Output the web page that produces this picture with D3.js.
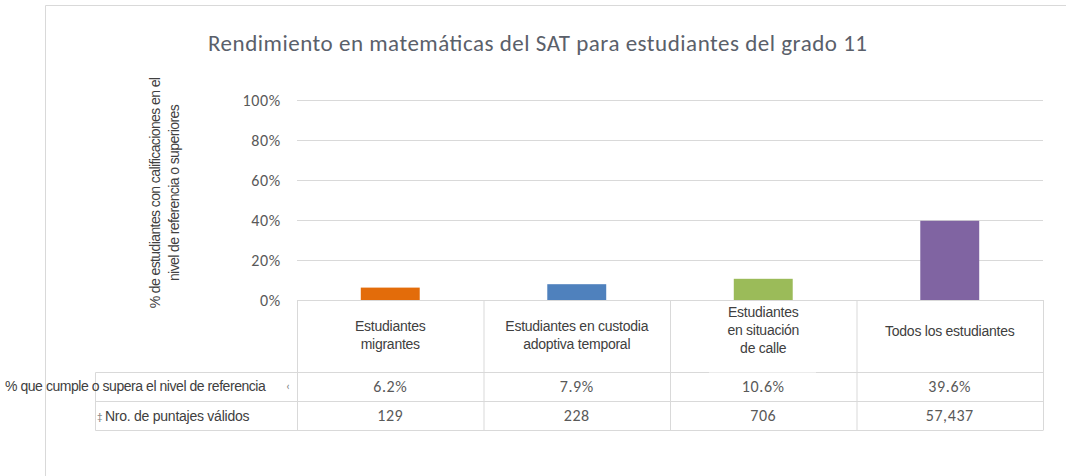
<!DOCTYPE html>
<html>
<head>
<meta charset="UTF-8">
<title>SAT matemáticas grado 11</title>
<style>
body { margin: 0; background: #fff; }
text { font-family: Carlito, Lato, sans-serif; }
.narrow { font-family: "Liberation Sans", Arial, sans-serif; letter-spacing: -0.25px; }
</style>
</head>
<body>
<script src="https://cdn.jsdelivr.net/npm/d3@7"></script>
<script>
// chart data
var categories = ["Estudiantes migrantes", "Estudiantes en custodia adoptiva temporal",
                  "Estudiantes en situación de calle", "Todos los estudiantes"];
var labelLines = [["Estudiantes", "migrantes"],
                  ["Estudiantes en custodia", "adoptiva temporal"],
                  ["Estudiantes", "en situación", "de calle"],
                  ["Todos los estudiantes"]];
var values = [0.062, 0.079, 0.106, 0.396];
var counts = ["129", "228", "706", "57,437"];
var colors = ["#e36c0a", "#4f81bd", "#9bbb59", "#8064a2"];
var yTicks = [0, 0.2, 0.4, 0.6, 0.8, 1];
var rowLabels = ["% que cumple o supera el nivel de referencia", "Nro. de puntajes válidos"];
var title = "Rendimiento en matemáticas del SAT para  estudiantes del grado 11";
var yTitle = ["% de estudiantes con calificaciones en el", "nivel de referencia o superiores"];

var width = 1066, height = 476;
var grid = "#d9d9d9";
var left = 297, right = 1043, top0 = 100, base = 300;

var svg = d3.select("body").append("svg")
  .attr("width", width)
  .attr("height", height);

// outer chart frame
svg.append("path")
  .attr("d", "M45.5," + height + "V5.5H" + width)
  .attr("fill", "none")
  .attr("stroke", grid);

svg.append("text")
  .attr("x", 208).attr("y", 51)
  .attr("font-size", 23)
  .attr("fill", "#5a606a")
  .attr("textLength", 659)
  .attr("lengthAdjust", "spacing")
  .text(title);

var x = d3.scaleBand().domain(categories).range([left, right]);
var y = d3.scaleLinear().domain([0, 1]).range([base, top0]);

// gridlines + ticks
var yAxis = d3.axisLeft(y).tickValues(yTicks).tickFormat(d3.format(".0%"))
  .tickSize(-(right - left)).tickPadding(16);
var ga = svg.append("g").attr("transform", "translate(" + left + ",0)").call(yAxis);
ga.select(".domain").remove();
ga.selectAll(".tick line").attr("stroke", grid);
ga.selectAll(".tick text").attr("font-size", 16).attr("fill", "#595959")
  .style("letter-spacing", "0.7px")
  .attr("font-family", "Carlito, Lato, sans-serif");

// y axis title
var yt = svg.append("text")
  .attr("class", "narrow")
  .attr("transform", "translate(160,193) rotate(-90)")
  .attr("text-anchor", "middle")
  .attr("font-size", 14)
  .style("letter-spacing", "-0.6px")
  .attr("fill", "#404040");
yt.selectAll("tspan").data(yTitle).enter().append("tspan")
  .attr("x", 0).attr("dy", function(d, i) { return i ? 19 : 0; })
  .text(function(d) { return d; });

// bars
var bw = x.bandwidth() * 0.316;
svg.selectAll("rect.bar").data(values).enter().append("rect")
  .attr("class", "bar")
  .attr("x", function(d, i) { return x(categories[i]) + (x.bandwidth() - bw) / 2; })
  .attr("y", function(d) { return y(d); })
  .attr("width", bw)
  .attr("height", function(d) { return base - y(d); })
  .attr("fill", function(d, i) { return colors[i]; });

// data table
var r1 = 372.5, r2 = 401.5, r3 = 430.5, hdrLeft = 95.5;
var tbl = svg.append("g").attr("stroke", grid).attr("fill", "none");
tbl.append("path").attr("d",
  "M" + hdrLeft + "," + r1 + "H" + right + "M" + hdrLeft + "," + r2 + "H" + right +
  "M" + hdrLeft + "," + r3 + "H" + right + "M" + hdrLeft + "," + r1 + "V" + r3);
categories.concat([null]).forEach(function(c, i) {
  var xx = (c ? x(c) : right) + 0.5;
  tbl.append("line").attr("x1", xx).attr("x2", xx).attr("y1", base).attr("y2", r3);
});

// category labels
categories.forEach(function(c, i) {
  var cx = x(c) + x.bandwidth() / 2;
  var lines = labelLines[i];
  var y0 = lines.length === 3 ? 317 : (lines.length === 2 ? 331 : 336);
  if (lines.length === 3) {
    svg.append("rect").attr("x", 709).attr("y", base + 1).attr("width", 107).attr("height", r1 - base - 1)
      .attr("fill", "#fff");
  }
  var t = svg.append("text").attr("class", "narrow")
    .attr("text-anchor", "middle").attr("font-size", 14).attr("fill", "#404040");
  t.selectAll("tspan").data(lines).enter().append("tspan")
    .attr("x", cx).attr("y", function(d, j) { return y0 + j * 18; })
    .text(function(d) { return d; });
});

// table values
var fmt = d3.format(".1%");
svg.selectAll("text.val").data(values).enter().append("text")
  .attr("class", "val")
  .attr("x", function(d, i) { return x(categories[i]) + x.bandwidth() / 2; })
  .attr("y", 392).attr("text-anchor", "middle").attr("font-size", 16)
  .style("letter-spacing", "0.6px").attr("fill", "#595959")
  .text(function(d) { return fmt(d); });
svg.selectAll("text.cnt").data(counts).enter().append("text")
  .attr("class", "cnt")
  .attr("x", function(d, i) { return x(categories[i]) + x.bandwidth() / 2; })
  .attr("y", 421).attr("text-anchor", "middle").attr("font-size", 16)
  .style("letter-spacing", "0.6px").attr("fill", "#595959")
  .text(function(d) { return d; });

// row headers
svg.append("text").attr("class", "narrow").attr("x", 5).attr("y", 391)
  .attr("font-size", 14).style("letter-spacing", "-0.45px")
  .attr("fill", "#404040").text(rowLabels[0]);
svg.append("text").attr("x", 286).attr("y", 390)
  .attr("font-size", 12).attr("fill", "#7f7f7f").text("‹");
svg.append("text").attr("x", 97).attr("y", 420)
  .attr("font-size", 11).attr("fill", "#7f7f7f").text("‡");
svg.append("text").attr("class", "narrow").attr("x", 105).attr("y", 421)
  .attr("font-size", 14).attr("fill", "#404040").text(rowLabels[1]);
</script>
</body>
</html>
